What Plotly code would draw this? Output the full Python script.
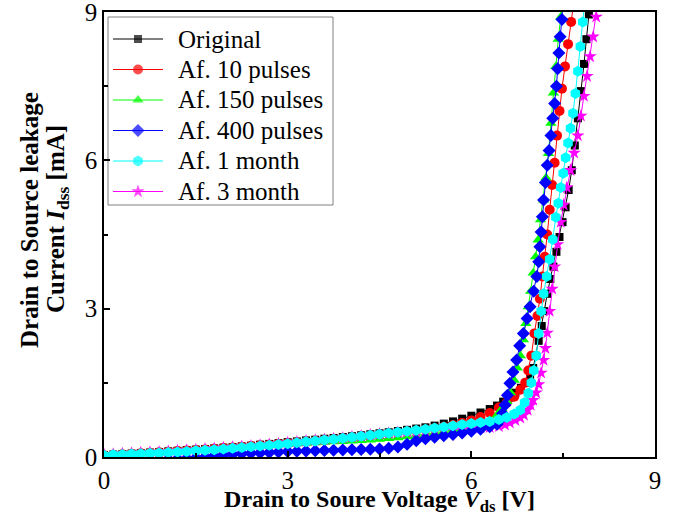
import plotly.graph_objects as go

# Shared low-voltage grid (V) for the leakage region
v_low = [0.0, 0.15, 0.3, 0.45, 0.6, 0.75, 0.9, 1.05, 1.2, 1.35, 1.5, 1.65, 1.8, 1.95, 2.1,
         2.25, 2.4, 2.55, 2.7, 2.85, 3.0, 3.15, 3.3, 3.45, 3.6, 3.75, 3.9, 4.05, 4.2, 4.35,
         4.5, 4.65, 4.8, 4.95, 5.1, 5.25, 5.4, 5.55, 5.7, 5.85, 6.0, 6.15, 6.3]

# Original
i_low_orig = [0.04, 0.05, 0.06, 0.07, 0.08, 0.09, 0.10, 0.115, 0.125, 0.14, 0.15, 0.16, 0.175, 0.19, 0.20,
              0.215, 0.23, 0.25, 0.265, 0.28, 0.30, 0.315, 0.335, 0.35, 0.37, 0.385, 0.405, 0.42, 0.44, 0.46,
              0.48, 0.50, 0.525, 0.55, 0.575, 0.60, 0.635, 0.675, 0.72, 0.775, 0.835, 0.90, 0.97]
v_hi_orig = [6.42, 6.52, 6.62, 6.72, 6.81, 6.89, 6.96, 7.01, 7.05, 7.1, 7.15, 7.19, 7.24, 7.29, 7.34,
             7.39, 7.44, 7.49, 7.54, 7.59, 7.64, 7.69, 7.74, 7.79, 7.84, 7.88, 7.92]
i_hi_orig = [1.04, 1.12, 1.2, 1.3, 1.4, 1.5, 1.62, 1.8, 2.05, 2.35, 2.65, 2.95, 3.3, 3.6, 3.85,
             4.15, 4.45, 4.75, 5.05, 5.4, 5.8, 6.3, 6.85, 7.4, 7.95, 8.45, 8.95]

# Af. 10 pulses
i_low_10p = [0.035, 0.045, 0.055, 0.065, 0.075, 0.085, 0.095, 0.105, 0.12, 0.13, 0.14, 0.15, 0.165, 0.18, 0.19,
             0.205, 0.22, 0.235, 0.25, 0.265, 0.28, 0.295, 0.31, 0.33, 0.345, 0.36, 0.38, 0.395, 0.415, 0.43,
             0.45, 0.47, 0.49, 0.51, 0.53, 0.555, 0.58, 0.61, 0.645, 0.69, 0.74, 0.81, 0.89]
v_hi_10p = [6.45, 6.58, 6.7, 6.8, 6.88, 6.93, 6.98, 7.03, 7.08, 7.12, 7.16, 7.2, 7.24, 7.28, 7.32,
            7.36, 7.4, 7.44, 7.48, 7.53, 7.58, 7.63, 7.68]
i_hi_10p = [1.0, 1.1, 1.22, 1.36, 1.5, 1.75, 2.05, 2.5, 2.85, 3.2, 3.65, 4.05, 4.5, 5.0, 5.5,
            5.95, 6.5, 7.0, 7.45, 7.9, 8.35, 8.8, 9.25]

# Af. 150 pulses
i_low_150p = [0.05, 0.058, 0.067, 0.075, 0.084, 0.093, 0.102, 0.113, 0.124, 0.135, 0.145, 0.155, 0.166, 0.177, 0.188,
              0.20, 0.21, 0.222, 0.234, 0.246, 0.258, 0.268, 0.278, 0.288, 0.298, 0.307, 0.316, 0.326, 0.336, 0.346,
              0.357, 0.375, 0.39, 0.41, 0.435, 0.46, 0.485, 0.51, 0.54, 0.57, 0.60, 0.66, 0.74]
v_hi_150p = [6.42, 6.5, 6.58, 6.64, 6.7, 6.75, 6.8, 6.85, 6.89, 6.93, 6.97, 7.01, 7.05, 7.09, 7.13,
             7.18, 7.22, 7.26, 7.3, 7.34, 7.38, 7.42, 7.46, 7.5]
i_hi_150p = [0.85, 0.98, 1.12, 1.3, 1.55, 1.8, 2.05, 2.37, 2.7, 3.04, 3.35, 3.72, 4.05, 4.39, 4.8,
             5.2, 5.65, 6.14, 6.75, 7.36, 7.9, 8.45, 8.9, 9.3]

# Af. 400 pulses
i_low_400p = [-0.12, -0.11, -0.10, -0.09, -0.085, -0.075, -0.06, -0.05, -0.04, -0.03, -0.02, 0.0, 0.025, 0.04, 0.055,
              0.065, 0.075, 0.083, 0.09, 0.10, 0.11, 0.115, 0.12, 0.127, 0.132, 0.136, 0.14, 0.145, 0.15, 0.155,
              0.16, 0.175, 0.20, 0.26, 0.33, 0.37, 0.40, 0.43, 0.455, 0.485, 0.52, 0.56, 0.61]
v_hi_400p = [6.42, 6.47, 6.51, 6.55, 6.59, 6.63, 6.68, 6.74, 6.79, 6.85, 6.91, 6.96, 7.02, 7.07, 7.1,
             7.12, 7.14, 7.16, 7.18, 7.21, 7.24, 7.27, 7.3, 7.33, 7.36, 7.39, 7.41, 7.43, 7.45, 7.48, 7.5]
i_hi_400p = [0.66, 0.75, 0.88, 1.05, 1.25, 1.49, 1.72, 1.96, 2.25, 2.5, 2.8, 3.04, 3.35, 3.65, 3.95,
             4.25, 4.55, 4.86, 5.2, 5.55, 5.9, 6.2, 6.5, 6.85, 7.15, 7.5, 7.85, 8.17, 8.5, 8.85, 9.2]

# Af. 1 month
i_low_1m = [0.035, 0.043, 0.051, 0.059, 0.067, 0.075, 0.083, 0.093, 0.103, 0.113, 0.124, 0.135, 0.147, 0.16, 0.175,
            0.19, 0.205, 0.22, 0.237, 0.253, 0.27, 0.288, 0.306, 0.324, 0.342, 0.36, 0.38, 0.40, 0.42, 0.44,
            0.46, 0.48, 0.50, 0.52, 0.54, 0.56, 0.585, 0.607, 0.63, 0.655, 0.68, 0.70, 0.72]
v_hi_1m = [6.45, 6.58, 6.7, 6.8, 6.87, 6.93, 6.98, 7.02, 7.06, 7.1, 7.14, 7.18, 7.23, 7.28, 7.33,
           7.38, 7.42, 7.46, 7.5, 7.54, 7.58, 7.62, 7.66, 7.7, 7.74, 7.78, 7.82, 7.86]
i_hi_1m = [0.76, 0.8, 0.87, 0.95, 1.1, 1.29, 1.5, 1.75, 2.05, 2.5, 2.95, 3.3, 3.65, 4.0, 4.4,
           4.85, 5.13, 5.45, 5.74, 6.05, 6.35, 6.65, 6.95, 7.35, 7.8, 8.3, 8.8, 9.3]

# Af. 3 month
i_low_3m = [0.05, 0.058, 0.067, 0.076, 0.085, 0.094, 0.103, 0.113, 0.125, 0.135, 0.147, 0.16, 0.172, 0.185, 0.197,
            0.21, 0.224, 0.238, 0.254, 0.27, 0.29, 0.305, 0.322, 0.338, 0.354, 0.37, 0.386, 0.41, 0.425, 0.445,
            0.465, 0.48, 0.495, 0.505, 0.515, 0.525, 0.535, 0.545, 0.555, 0.565, 0.575, 0.59, 0.60]
v_hi_3m = [6.45, 6.55, 6.63, 6.72, 6.8, 6.86, 6.92, 6.97, 7.01, 7.06, 7.1, 7.14, 7.18, 7.21, 7.24,
           7.28, 7.32, 7.36, 7.41, 7.46, 7.51, 7.56, 7.62, 7.68, 7.74, 7.79, 7.84, 7.89, 7.94, 7.99, 8.04, 8.08]
i_hi_3m = [0.62, 0.65, 0.69, 0.74, 0.79, 0.85, 0.95, 1.05, 1.15, 1.3, 1.47, 1.7, 1.96, 2.2, 2.51,
           2.95, 3.4, 3.85, 4.3, 4.75, 5.1, 5.45, 5.8, 6.15, 6.5, 6.9, 7.3, 7.7, 8.1, 8.5, 8.9, 9.3]

x_ticks = [0, 3, 6, 9]
y_ticks = [0, 3, 6, 9]

FONT = "Liberation Serif"
W, H = 677, 516
ML, MR, MT, MB = 104, 22, 12, 59
PW, PH = W - ML - MR, H - MT - MB

# (name, low I, hi V, hi I, color, symbol, size, legend row) in drawing order
series = [
    ("Original", i_low_orig, v_hi_orig, i_hi_orig, "#000000", "square", 8, 0),
    ("Af. 10 pulses", i_low_10p, v_hi_10p, i_hi_10p, "#ff0000", "circle", 10, 1),
    ("Af. 150 pulses", i_low_150p, v_hi_150p, i_hi_150p, "#00ff00", "triangle-up", 10, 2),
    ("Af. 3 month", i_low_3m, v_hi_3m, i_hi_3m, "#ff00ff", "star", 10, 5),
    ("Af. 400 pulses", i_low_400p, v_hi_400p, i_hi_400p, "#0000ff", "diamond", 10, 3),
    ("Af. 1 month", i_low_1m, v_hi_1m, i_hi_1m, "#00ffff", "hexagon", 11, 4),
]


def px_x(px):
    return (px - ML) / PW


def px_y(py):
    return (H - MB - py) / PH


fig = go.Figure()
for name, ilow, vhi, ihi, col, sym, sz, row in series:
    fig.add_trace(go.Scatter(
        x=v_low + vhi, y=ilow + ihi, name=name, mode="lines+markers",
        line=dict(color=col, width=1),
        marker=dict(symbol=sym, size=sz, color=col, line=dict(width=0)),
        showlegend=False,
    ))

# Legend drawn inside the plot (boxed, Origin style)
LEG_L, LEG_R, LEG_T, LEG_B = 108, 333, 17, 205
ROW0, ROWSTEP = 39, 30.5
SYM_L, SYM_R, TXT_L = 113, 163, 176
shapes = [dict(type="rect", xref="paper", yref="paper",
               x0=px_x(LEG_L), x1=px_x(LEG_R), y0=px_y(LEG_B), y1=px_y(LEG_T),
               line=dict(color="#808080", width=1), fillcolor="white", layer="below")]
annotations = []
for name, ilow, vhi, ihi, col, sym, sz, row in series:
    yy = px_y(ROW0 + row * ROWSTEP)
    fig.add_trace(go.Scatter(
        x=[px_x(SYM_L), px_x((SYM_L + SYM_R) / 2), px_x(SYM_R)], y=[yy, yy, yy],
        xaxis="x2", yaxis="y2", mode="lines+markers", showlegend=False, hoverinfo="skip",
        line=dict(color=col, width=1), cliponaxis=False,
        marker=dict(symbol=sym, size=[0, sz, 0], color=col, line=dict(width=0)),
    ))
    annotations.append(dict(text=name, xref="paper", yref="paper", x=px_x(TXT_L), y=yy,
                            xanchor="left", yanchor="middle", showarrow=False,
                            font=dict(family=FONT, size=25, color="black")))

# Y-axis title as two rotated lines
annotations.append(dict(text="<b>Drain to Source leakage</b>", xref="paper", yref="paper",
                        x=px_x(30), y=px_y(220), textangle=-90, showarrow=False,
                        xanchor="center", yanchor="middle",
                        font=dict(family=FONT, size=25, color="black")))
annotations.append(dict(text="<b>Current <i>I</i><sub>dss</sub> [mA]</b>", xref="paper", yref="paper",
                        x=px_x(57), y=px_y(219), textangle=-90, showarrow=False,
                        xanchor="center", yanchor="middle",
                        font=dict(family=FONT, size=25, color="black")))

axis_common = dict(
    range=[0, 9], ticks="inside", ticklen=6, tickwidth=1.5,
    tickcolor="black", showline=True, linecolor="black", linewidth=1.5, mirror=True,
    showgrid=False, zeroline=False, automargin=False, ticklabeloverflow="allow",
    tickfont=dict(family=FONT, size=25, color="black"),
    minor=dict(dtick=1.5, ticks="inside", ticklen=4, tickwidth=1.5, tickcolor="black", showgrid=False),
)

fig.update_layout(
    width=W, height=H,
    margin=dict(l=ML, r=MR, t=MT, b=MB),
    paper_bgcolor="white", plot_bgcolor="white",
    xaxis=dict(**axis_common, tickvals=x_ticks,
               title=dict(text="<b>Drain to Soure Voltage <i>V</i><sub>ds</sub> [V]</b>",
                          font=dict(family=FONT, size=24, color="black"), standoff=1)),
    yaxis=dict(**axis_common, tickvals=y_ticks),
    xaxis2=dict(overlaying="x", range=[0, 1], visible=False, fixedrange=True),
    yaxis2=dict(overlaying="y", range=[0, 1], visible=False, fixedrange=True),
    shapes=shapes,
    annotations=annotations,
    showlegend=False,
)

fig.write_html("out.html", config={"displayModeBar": False},
               post_script="document.body.style.margin='0';")
